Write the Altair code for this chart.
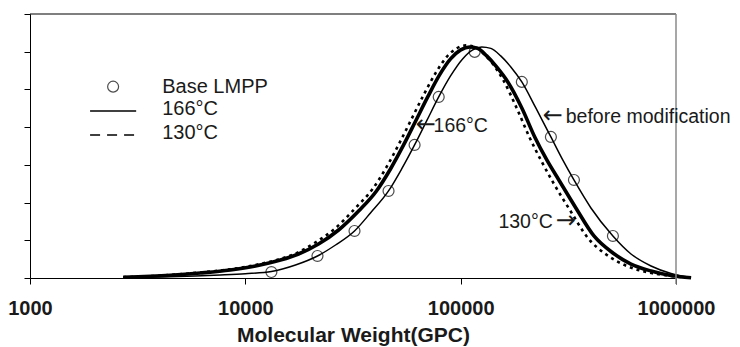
import altair as alt
import pandas as pd

# x values are log10(molecular weight), y values are normalized distribution heights
before_logm = [3.433, 3.651, 3.884, 4.000, 4.121, 4.233, 4.335, 4.419, 4.507, 4.581, 4.665,
               4.726, 4.786, 4.842, 4.898, 4.953, 5.009, 5.056, 5.098, 5.140, 5.186, 5.233,
               5.284, 5.349, 5.419, 5.474, 5.526, 5.605, 5.707, 5.791, 5.884, 5.977, 6.070]
before_val = [0.011, 0.032, 0.080, 0.114, 0.172, 0.345, 0.584, 0.875, 1.247, 1.724, 2.308,
              2.891, 3.528, 4.164, 4.801, 5.358, 5.809, 6.048, 6.127, 6.088, 5.889, 5.597,
              5.199, 4.509, 3.740, 3.130, 2.599, 1.857, 1.114, 0.637, 0.318, 0.119, 0.011]

t166_logm = [3.433, 3.651, 3.791, 3.930, 4.047, 4.163, 4.247, 4.340, 4.433, 4.526, 4.609,
             4.674, 4.735, 4.791, 4.847, 4.902, 4.953, 5.000, 5.042, 5.079, 5.121, 5.167,
             5.219, 5.284, 5.344, 5.400, 5.456, 5.535, 5.619, 5.707, 5.791, 5.884, 5.977, 6.070]
t166_val = [0.019, 0.072, 0.133, 0.212, 0.318, 0.477, 0.637, 0.902, 1.273, 1.777, 2.308,
            2.891, 3.528, 4.164, 4.801, 5.385, 5.809, 6.048, 6.127, 6.088, 5.889, 5.597,
            5.199, 4.509, 3.740, 3.130, 2.599, 1.857, 1.114, 0.663, 0.371, 0.186, 0.066, 0.005]

t130_logm = [3.433, 3.651, 3.791, 3.930, 4.047, 4.153, 4.233, 4.321, 4.414, 4.507, 4.591,
             4.656, 4.716, 4.772, 4.828, 4.884, 4.935, 4.981, 5.023, 5.065, 5.107, 5.153,
             5.200, 5.260, 5.321, 5.377, 5.428, 5.507, 5.591, 5.679, 5.772, 5.874, 5.977, 6.070]
t130_val = [0.021, 0.080, 0.146, 0.231, 0.345, 0.491, 0.650, 0.928, 1.300, 1.830, 2.361,
            2.944, 3.581, 4.218, 4.854, 5.438, 5.862, 6.088, 6.167, 6.127, 5.942, 5.650,
            5.225, 4.509, 3.714, 3.077, 2.546, 1.804, 1.061, 0.610, 0.318, 0.146, 0.053, 0.000]

base_logm = [4.121, 4.335, 4.507, 4.665, 4.786, 4.898, 5.065, 5.284, 5.419, 5.526, 5.707]
base_val = [0.159, 0.584, 1.247, 2.308, 3.528, 4.801, 5.995, 5.199, 3.740, 2.599, 1.114]

x_ticks = [3, 4, 5, 6]
y_ticks = [0, 1, 2, 3, 4, 5, 6, 7]

FONT = "Liberation Sans"
INK = "#1a1a1a"

xs = alt.Scale(domain=[3, 6], nice=False, zero=False)
ys = alt.Scale(domain=[0, 7], nice=False, zero=False)

def df(lx, ly):
    return pd.DataFrame({"logm": lx, "v": ly})

x_axis = alt.Axis(values=x_ticks, labelExpr="format(pow(10, datum.value), 'd')",
                  title="Molecular Weight(GPC)", grid=False,
                  labelFont=FONT, labelFontSize=20, labelFontWeight="bold", labelColor=INK,
                  titleFont=FONT, titleFontSize=21, titleFontWeight="bold", titleColor=INK,
                  tickSize=6, labelPadding=14, titlePadding=6,
                  domainColor="black", tickColor="black", labelFlush=False, labelOverlap=False)
y_axis = alt.Axis(values=y_ticks, labels=False, title=None, grid=False, tickSize=6,
                  domainColor="black", tickColor="black")

def X(field):
    return alt.X(field, scale=xs, axis=x_axis)

def Y(field):
    return alt.Y(field, scale=ys, axis=y_axis)

thin = alt.Chart(df(before_logm, before_val)).mark_line(
    color="black", strokeWidth=1.5, interpolate="monotone", clip=False
).encode(x=X("logm:Q"), y=Y("v:Q"), order="logm:Q")

dashed = alt.Chart(df(t130_logm, t130_val)).mark_line(
    color="black", strokeWidth=2.6, strokeDash=[3, 4], interpolate="monotone", clip=False
).encode(x=X("logm:Q"), y=Y("v:Q"), order="logm:Q")

thick = alt.Chart(df(t166_logm, t166_val)).mark_line(
    color="black", strokeWidth=3.6, interpolate="monotone", clip=False
).encode(x=X("logm:Q"), y=Y("v:Q"), order="logm:Q")

circles = alt.Chart(df(base_logm, base_val)).mark_point(
    shape="circle", filled=False, size=120, stroke="black", strokeWidth=1.2
).encode(x=X("logm:Q"), y=Y("v:Q"))

# frame: black top, gray right
top = alt.Chart(pd.DataFrame({"logm": [3], "b": [6], "v": [7]})).mark_rule(
    color="black", strokeWidth=1.2).encode(x=X("logm:Q"), x2="b:Q", y=Y("v:Q"))
right = alt.Chart(pd.DataFrame({"logm": [6], "v": [-0.16], "v1": [7]})).mark_rule(
    color="#8a8a8a", strokeWidth=1.5).encode(x=X("logm:Q"), y=Y("v:Q"), y2="v1:Q")

# legend inside the plot
leg_circle = alt.Chart(pd.DataFrame({"logm": [3.386], "v": [5.073]})).mark_point(
    shape="circle", filled=False, size=120, stroke="black", strokeWidth=1.2
).encode(x=X("logm:Q"), y=Y("v:Q"))
leg_solid = alt.Chart(pd.DataFrame({"logm": [3.279], "b": [3.493], "v": [4.428]})).mark_rule(
    color="black", strokeWidth=1.5).encode(x=X("logm:Q"), x2="b:Q", y=Y("v:Q"))
leg_dash = alt.Chart(pd.DataFrame({"logm": [3.279], "b": [3.493], "v": [3.792]})).mark_rule(
    color="black", strokeWidth=1.5, strokeDash=[10, 7]).encode(x=X("logm:Q"), x2="b:Q", y=Y("v:Q"))
leg_text = alt.Chart(pd.DataFrame({
    "logm": [3.614, 3.614, 3.614], "v": [5.073, 4.474, 3.853],
    "t": ["Base LMPP", "166°C", "130°C"]})).mark_text(
    align="left", baseline="middle", font=FONT, fontSize=20, color=INK
).encode(x=X("logm:Q"), y=Y("v:Q"), text="t:N")

# annotations
ann_left = alt.Chart(pd.DataFrame({
    "logm": [5.488, 4.874], "v": [4.270, 4.030],
    "t": ["before modification", "166°C"]})).mark_text(
    align="left", baseline="middle", font=FONT, fontSize=19.5, color=INK
).encode(x=X("logm:Q"), y=Y("v:Q"), text="t:N")
ann_right = alt.Chart(pd.DataFrame({
    "logm": [5.428], "v": [1.485], "t": ["130°C"]})).mark_text(
    align="right", baseline="middle", font=FONT, fontSize=19.5, color=INK
).encode(x=X("logm:Q"), y=Y("v:Q"), text="t:N")
arrows_left = alt.Chart(pd.DataFrame({
    "logm": [5.381, 4.791], "v": [4.300, 4.060], "t": ["←", "←"]})).mark_text(
    align="left", baseline="middle", font="DejaVu Sans", fontSize=24, color=INK
).encode(x=X("logm:Q"), y=Y("v:Q"), text="t:N")
arrows_right = alt.Chart(pd.DataFrame({
    "logm": [5.535], "v": [1.515], "t": ["→"]})).mark_text(
    align="right", baseline="middle", font="DejaVu Sans", fontSize=24, color=INK
).encode(x=X("logm:Q"), y=Y("v:Q"), text="t:N")

chart = alt.layer(
    thin, dashed, thick, circles, top, right,
    leg_circle, leg_solid, leg_dash, leg_text,
    ann_left, ann_right, arrows_left, arrows_right
).properties(
    width=646, height=264,
    autosize=alt.AutoSizeParams(type="none"),
    padding={"left": 22, "top": 6, "right": 56, "bottom": 69},
    background="white",
).configure_view(stroke=None)

chart.save("out.html", embed_options={"renderer": "svg", "actions": False})
